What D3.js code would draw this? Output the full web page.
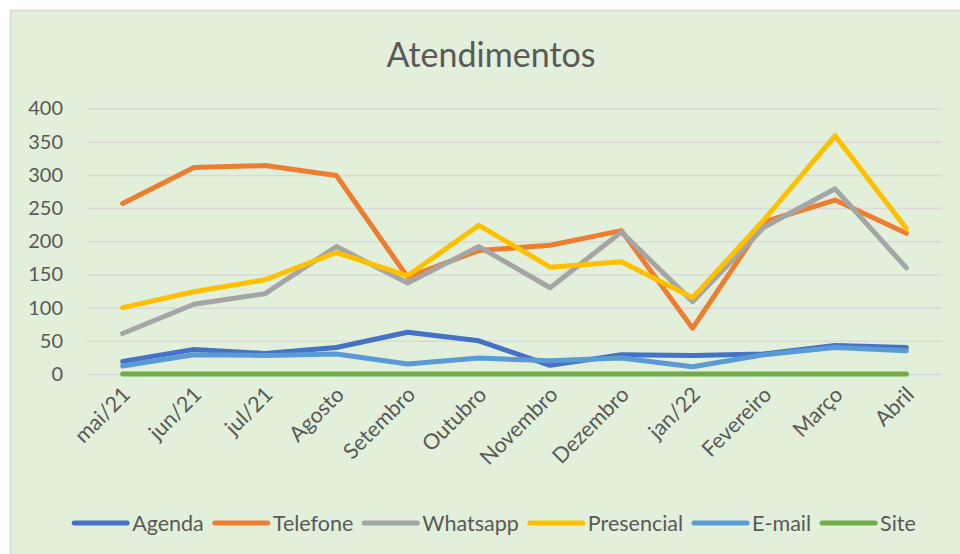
<!DOCTYPE html>
<html><head><meta charset="utf-8">
<script src="https://cdn.jsdelivr.net/npm/d3@7"></script>
<style>
html,body{margin:0;padding:0;background:#fff;}
svg{display:block;}
text{font-family:Lato,"Open Sans",sans-serif;fill:#595959;}
</style></head>
<body><svg id="chart" width="960" height="554"></svg>
<script>
const categories = ["mai/21","jun/21","jul/21","Agosto","Setembro","Outubro","Novembro","Dezembro","jan/22","Fevereiro","Março","Abril"];
const agenda     = [19, 37, 31, 40, 63, 50, 13, 29, 28, 30, 43, 40];
const telefone   = [257, 311, 314, 299, 146, 186, 194, 216, 69, 229, 262, 212];
const whatsapp   = [61, 105, 121, 192, 137, 192, 130, 214, 109, 221, 279, 160];
const presencial = [100, 124, 142, 183, 148, 224, 161, 169, 115, 232, 359, 219];
const email      = [12, 29, 28, 30, 15, 24, 20, 24, 11, 29, 40, 35];
const site       = [0, 0, 0, 0, 0, 0, 0, 0, 0, 0, 0, 0];
const seriesNames = ["Agenda","Telefone","Whatsapp","Presencial","E-mail","Site"];
const yTicks = [0, 50, 100, 150, 200, 250, 300, 350, 400];
const title = "Atendimentos";

const seriesValues = [agenda, telefone, whatsapp, presencial, email, site];
const colors = ["#4472C4","#ED7D31","#A5A5A5","#FFC000","#5B9BD5","#70AD47"];

const svg = d3.select("#chart");
svg.append("rect").attr("x",10.5).attr("y",10.5).attr("width",960).attr("height",560)
  .attr("fill","#E2EFDA").attr("stroke","#D9D9D9").attr("stroke-width",1.5);

svg.append("text").attr("x",491).attr("y",67).attr("text-anchor","middle")
  .style("font-size","34px").text(title);

const x = d3.scaleBand().domain(categories).range([87, 942]);
const y = d3.scaleLinear().domain([0, 400]).range([374, 108.5]);
const cx = c => x(c) + x.bandwidth()/2;

// gridlines + y labels
const yAxis = svg.append("g").attr("transform","translate(87,0)")
  .call(d3.axisLeft(y).tickValues(yTicks).tickSize(-(942-87)).tickPadding(24));
yAxis.select(".domain").remove();
yAxis.selectAll("line").attr("stroke","#D9D9D9").attr("stroke-width",1.5);
yAxis.selectAll("text").style("font-size","20px").style("font-family","Lato").attr("fill","#595959");

// x labels
const xAxis = svg.append("g").attr("transform","translate(0,374)")
  .call(d3.axisBottom(x).tickSize(0).tickPadding(0));
xAxis.select(".domain").remove();
xAxis.selectAll("text")
  .style("font-size","21.5px").style("font-family","Lato").attr("fill","#595959")
  .attr("text-anchor","end")
  .attr("dy",null).attr("y",null)
  .attr("transform", "translate(9,22) rotate(-45)");

const line = d3.line().x((d,i)=>cx(categories[i])).y(d=>y(d));
seriesValues.forEach((vals, k) => {
  svg.append("path").datum(vals).attr("d", line)
    .attr("fill","none").attr("stroke",colors[k]).attr("stroke-width",5)
    .attr("stroke-linejoin","round").attr("stroke-linecap","round");
});

// legend
const lg = svg.append("g");
let lx = 0;
seriesNames.forEach((n, k) => {
  const g = lg.append("g").attr("transform",`translate(${lx},0)`);
  g.append("line").attr("x1",2).attr("x2",55).attr("y1",0).attr("y2",0)
    .attr("stroke",colors[k]).attr("stroke-width",5).attr("stroke-linecap","round");
  const t = g.append("text").attr("x",60).attr("y",8).style("font-size","21.5px").text(n);
  lx += 60 + t.node().getComputedTextLength() + 9;
});
const total = lx - 9;
lg.attr("transform",`translate(${494 - total/2},523)`);
</script></body></html>
